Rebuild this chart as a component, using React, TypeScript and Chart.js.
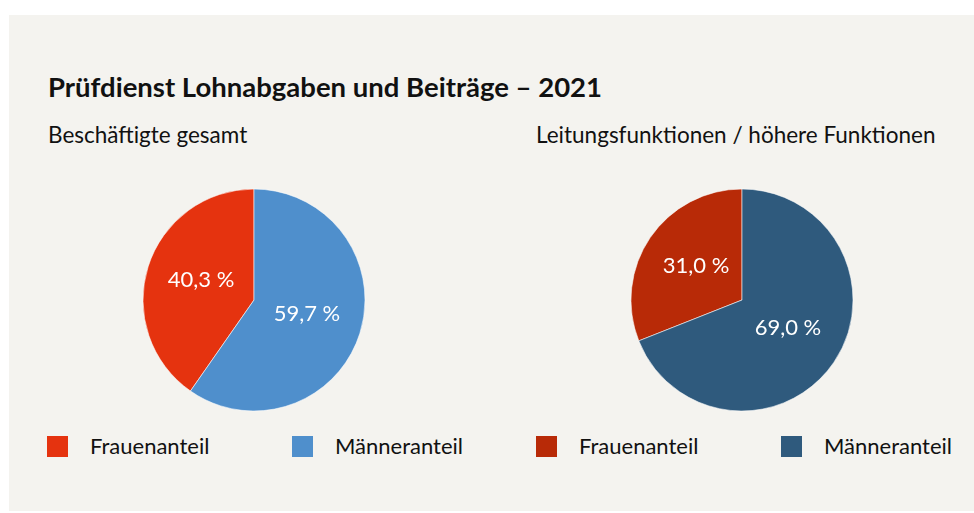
import React, { useEffect, useRef } from "react";
import { Chart, registerables } from "chart.js";

Chart.register(...registerables);

const categories = ["Frauenanteil", "Männeranteil"];
const gesamtValues = [40.3, 59.7];
const leitungValues = [31.0, 69.0];
const gesamtColors = ["#e5330f", "#4f8fcc"];
const leitungColors = ["#b82a07", "#2f5a7d"];

const titleText = "Prüfdienst Lohnabgaben und Beiträge – 2021";
const subtitles = ["Beschäftigte gesamt", "Leitungsfunktionen / höhere Funktionen"];

const FONT = "Lato, 'Noto Sans', sans-serif";

const fmt = (v: number) => v.toFixed(1).replace(".", ",") + " %";

const labelPlugin = {
  id: "sliceLabels",
  afterDatasetsDraw(chart: any) {
    const ctx = chart.ctx;
    const meta = chart.getDatasetMeta(0);
    const data = chart.data.datasets[0].data as number[];
    ctx.save();
    ctx.fillStyle = "#ffffff";
    ctx.font = `400 22px ${FONT}`;
    ctx.textAlign = "center";
    ctx.textBaseline = "middle";
    meta.data.forEach((arc: any, i: number) => {
      const p = arc.tooltipPosition();
      ctx.fillText(fmt(data[i]), p.x, p.y - 3);
    });
    ctx.restore();
  },
};

function PieChart({ values, colors }: { values: number[]; colors: string[] }) {
  const ref = useRef<HTMLCanvasElement | null>(null);
  useEffect(() => {
    if (!ref.current) return;
    const total = values.reduce((a, b) => a + b, 0);
    const chart = new Chart(ref.current, {
      type: "pie",
      data: {
        labels: categories,
        datasets: [
          {
            data: values,
            backgroundColor: colors,
            borderColor: "rgba(255,255,255,0.7)",
            borderWidth: 0.8,
          },
        ],
      },
      options: {
        responsive: false,
        animation: false,
        rotation: (-values[0] / total) * 360,
        radius: 111,
        layout: { padding: 0 },
        plugins: {
          legend: { display: false },
          tooltip: { enabled: false },
        },
        events: [],
      },
      plugins: [labelPlugin],
    });
    return () => chart.destroy();
  }, [values, colors]);
  return <canvas ref={ref} width={240} height={240} style={{ width: 240, height: 240, display: "block" }} />;
}

function Legend({ colors }: { colors: string[] }) {
  return (
    <div style={{ display: "flex" }}>
      {categories.map((c, i) => (
        <div key={c} style={{ display: "flex", alignItems: "center", width: 245 }}>
          <div style={{ width: 21, height: 21, background: colors[i], marginRight: 22, flex: "none" }} />
          <span style={{ fontSize: 22, lineHeight: "24px", color: "#111" }}>{c}</span>
        </div>
      ))}
    </div>
  );
}

export default function App() {
  const abs = (l: number, t: number): React.CSSProperties => ({ position: "absolute", left: l, top: t });
  return (
    <div style={{ position: "fixed", left: 0, top: 0, width: 974, height: 513, background: "#ffffff", fontFamily: FONT, overflow: "hidden" }}>
      <div style={{ position: "absolute", left: 9, top: 15, width: 965, height: 496, background: "#f4f3ef" }} />
      <div style={{ ...abs(48, 70), fontSize: 27.5, fontWeight: 700, lineHeight: 1.2, color: "#111", whiteSpace: "nowrap" }}>{titleText}</div>
      <div style={{ ...abs(48, 121), fontSize: 22.5, lineHeight: 1.2, color: "#111", whiteSpace: "nowrap" }}>{subtitles[0]}</div>
      <div style={{ ...abs(536, 121), fontSize: 22.5, lineHeight: 1.2, color: "#111", whiteSpace: "nowrap" }}>{subtitles[1]}</div>
      <div style={abs(134, 180)}>
        <PieChart values={gesamtValues} colors={gesamtColors} />
      </div>
      <div style={abs(622, 180)}>
        <PieChart values={leitungValues} colors={leitungColors} />
      </div>
      <div style={abs(47, 434)}>
        <Legend colors={gesamtColors} />
      </div>
      <div style={abs(536, 434)}>
        <Legend colors={leitungColors} />
      </div>
    </div>
  );
}
